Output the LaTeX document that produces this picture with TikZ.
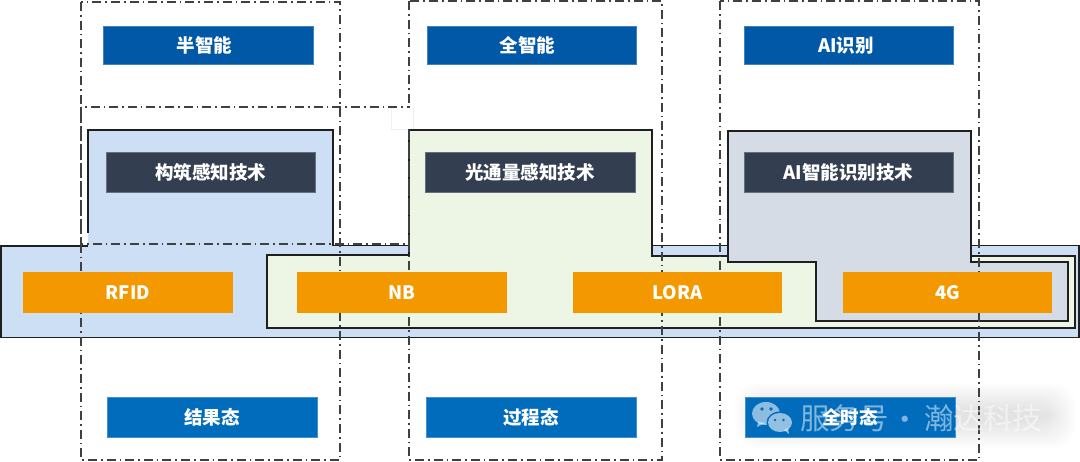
\documentclass[tikz,border=0pt]{standalone}
\usepackage{fontspec}
\setmainfont{Noto Sans CJK SC}
\definecolor{bandblue}{HTML}{CCDFF5}
\definecolor{palegreen}{HTML}{EDF6E5}
\definecolor{palegrey}{HTML}{D5DCE6}
\definecolor{topblue}{HTML}{0058A6}
\definecolor{darkslate}{HTML}{333F50}
\definecolor{techorange}{HTML}{F49800}
\definecolor{lowblue}{HTML}{006CBB}
\definecolor{dashgrey}{HTML}{404040}
\tikzset{
  outline/.style={draw=black!88,line width=1.9pt,line join=miter},
  zone/.style={draw=dashgrey,line width=1.5pt,dash pattern=on 9pt off 4pt on 1.6pt off 4pt},
  tag/.style={inner sep=0pt,minimum width=209.5pt,text=white,font=\fontsize{18.5}{20}\selectfont\bfseries,anchor=center},
  toptag/.style={tag,fill=topblue,draw=topblue!75!white,line width=.5pt,minimum height=37.5pt},
  darktag/.style={tag,fill=darkslate,draw=darkslate!75!white,line width=.5pt,minimum height=40pt},
  linktag/.style={tag,fill=techorange,minimum height=41pt},
  lowtag/.style={tag,fill=lowblue,draw=lowblue!75!white,line width=.5pt,minimum height=40pt},
  mark text/.style={text=white,text opacity=.5,font=\fontsize{29.5}{32}\selectfont,inner sep=0pt},
}
\begin{document}
\begin{tikzpicture}[x=1pt,y=-1pt]
\useasboundingbox[fill=white] (0,0) rectangle (1080,462);
% blue band with bump
\fill[bandblue] (1,246) -- (88,246) -- (88,130) -- (333,130) -- (333,246) -- (1079,246) -- (1079,337.5) -- (1,337.5) -- cycle;
\draw[outline] (88,233) -- (88,130) -- (333,130) -- (333,245.5) -- (1079,245.5) -- (1079,337.5) -- (1,337.5) -- (1,246) -- (88,246);
% green shape
\path[outline,fill=palegreen] (409,130) -- (652,130) -- (652,256) -- (1075,256) -- (1075,328) -- (267,328) -- (267,255) -- (409,255) -- cycle;
% grey shape
\path[outline,fill=palegrey] (728,131) -- (971,131) -- (971,262) -- (1068,262) -- (1068,321) -- (816,321) -- (816,262) -- (728,262) -- cycle;
% watermark halo
\foreach \g in {0,2,...,26}{
  \fill[black,opacity=.006,rounded corners=22pt] (735+\g,383+\g) rectangle (1075-\g,448-\g);
}
% dashed zones
\draw[zone] (81,2) rectangle (340,460);
\draw[zone] (409,1) rectangle (662,460);
\draw[zone] (720,1) rectangle (979,460);
\draw[zone] (81,107) rectangle (409,244);
% small patch
\fill[white] (391,108.5) rectangle (413,129);
\draw[black!6,line width=.6pt] (391,108.5) -- (391,129) -- (408,129);
\draw[black!6,line width=.6pt] (413,108.5) -- (413,129);
% tags
\node[toptag] (ban) at (208,45.5) {半智能\hspace*{7pt}};
\node[toptag] (quan) at (531.5,45.5) {全智能\hspace*{8pt}};
\node[toptag] (ai) at (848.5,45.5) {AI识别\hspace*{5pt}};
\node[darktag] (goujian) at (210.5,172) {构筑感知技术};
\node[darktag] (guang) at (530,172) {光通量感知技术};
\node[darktag] (aitech) at (848.5,172) {AI智能识别技术};
\node[linktag] (rfid) at (128,292.5) {RFID};
\node[linktag] (nb) at (402,292.5) {NB};
\node[linktag] (lora) at (677.5,292.5) {LORA};
\node[linktag] (fourg) at (947.5,292.5) {4G};
\node[lowtag] (jieguo) at (212,417) {结果态};
\node[lowtag] (guocheng) at (531,417) {过程态};
\node[lowtag] (quanshi) at (850,417) {全时态};
% watermark
\fill[white,opacity=.55] (766,413.5) ellipse (14pt and 11.5pt);
\fill[white,opacity=.55] (758,422) -- (757,427) -- (765,423) -- cycle;
\fill[lowblue] (780,422.5) ellipse (13.5pt and 11pt);
\fill[white,opacity=.58] (780,422.5) ellipse (12pt and 9.5pt);
\fill[white,opacity=.58] (784,430) -- (789,434) -- (788,428) -- cycle;
\foreach \p in {762,771}{\fill[lowblue] (\p,409) circle (1.8pt);}
\foreach \p in {775,783.5}{\fill[lowblue] (\p,420) circle (1.4pt);}
\node[mark text,anchor=west] (markone) at (800,418) {服务号};
\node[mark text] (markdot) at (905,423) {·};
\node[mark text,anchor=west] (marktwo) at (924,418) {瀚达科技};
\end{tikzpicture}
\end{document}
